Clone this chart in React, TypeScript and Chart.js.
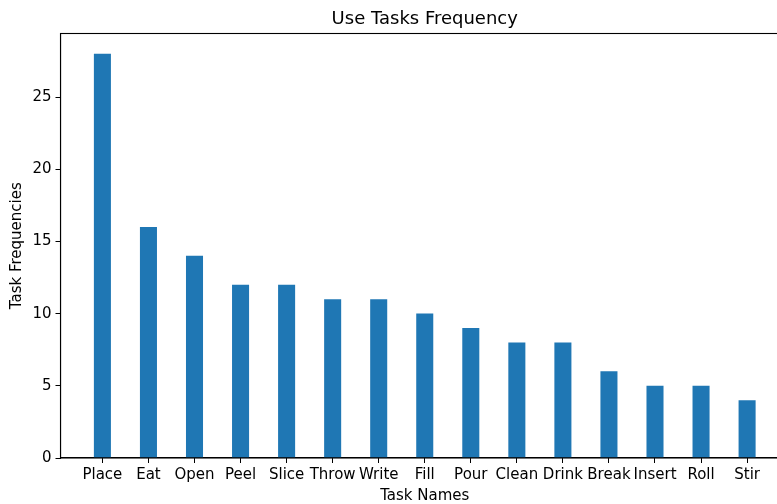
import React, { useEffect, useRef } from "react";
import { Chart, registerables } from "chart.js";

Chart.register(...registerables);

const categories = ["Place", "Eat", "Open", "Peel", "Slice", "Throw", "Write", "Fill", "Pour", "Clean", "Drink", "Break", "Insert", "Roll", "Stir"];
const frequencies = [28, 16, 14, 12, 12, 11, 11, 10, 9, 8, 8, 6, 5, 5, 4];
const yTickValues = [0, 5, 10, 15, 20, 25];

const FONT = "'DejaVu Sans', sans-serif";

const framePlugin = {
  id: "frame",
  afterDraw(chart: any) {
    const { ctx, chartArea: a } = chart;
    ctx.save();
    ctx.strokeStyle = "#000";
    ctx.lineWidth = 1.1;
    ctx.strokeRect(a.left, a.top, a.right - a.left, a.bottom - a.top);
    ctx.restore();
  },
};

export default function App() {
  const ref = useRef<HTMLCanvasElement>(null);

  useEffect(() => {
    document.body.style.margin = "0";
    document.body.style.overflow = "hidden";
    const canvas = ref.current!;
    const chart = new Chart(canvas, {
      type: "bar",
      data: {
        datasets: [
          {
            data: frequencies.map((v, i) => ({ x: i, y: v })),
            backgroundColor: "#1f77b4",
            borderWidth: 0,
            categoryPercentage: 1,
            barPercentage: 0.37,
          },
        ],
      },
      options: {
        animation: false,
        responsive: false,
        devicePixelRatio: 1,
        layout: { padding: { left: 0, right: 11, top: 0, bottom: 0 } },
        plugins: {
          legend: { display: false },
          tooltip: { enabled: false },
          title: {
            display: true,
            fullSize: false,
            text: "Use Tasks Frequency",
            color: "#000",
            font: { family: FONT, size: 18, weight: "normal" },
            padding: { top: 8.5, bottom: 3.4 },
          },
        },
        scales: {
          x: {
            type: "linear",
            min: -0.91,
            max: 14.91,
            offset: false,
            afterBuildTicks: (scale: any) => {
              scale.ticks = categories.map((_, i) => ({ value: i }));
            },
            afterFit: (scale: any) => {
              scale.height = 46;
            },
            ticks: {
              autoSkip: false,
              maxRotation: 0,
              color: "#000",
              padding: 3.5,
              font: { family: FONT, size: 15 },
              callback: (v: any) => categories[v as number] ?? "",
            },
            grid: { display: true, offset: false, drawOnChartArea: false, drawTicks: true, tickLength: 5, color: "#000", lineWidth: 1 },
            border: { display: true, color: "#000", width: 1.1 },
            title: {
              display: true,
              text: "Task Names",
              color: "#000",
              font: { family: FONT, size: 15 },
              padding: { top: 0, bottom: -1.5 },
            },
          },
          y: {
            type: "linear",
            min: 0,
            max: 29.4,
            afterBuildTicks: (scale: any) => {
              scale.ticks = yTickValues.map((v) => ({ value: v }));
            },
            afterFit: (scale: any) => {
              scale.width = 60.5;
            },
            ticks: {
              color: "#000",
              padding: 4,
              font: { family: FONT, size: 15 },
            },
            grid: { display: true, offset: false, drawOnChartArea: false, drawTicks: true, tickLength: 5, color: "#000", lineWidth: 1 },
            border: { display: true, color: "#000", width: 1.1 },
            title: {
              display: true,
              text: "Task Frequencies",
              color: "#000",
              font: { family: FONT, size: 15 },
              padding: { top: 8.5, bottom: 0 },
            },
          },
        },
      },
      plugins: [framePlugin],
    });
    return () => chart.destroy();
  }, []);

  return (
    <canvas
      ref={ref}
      width={800}
      height={504}
      style={{ position: "fixed", left: 0, top: 0, width: 800, height: 504, display: "block" }}
    />
  );
}
